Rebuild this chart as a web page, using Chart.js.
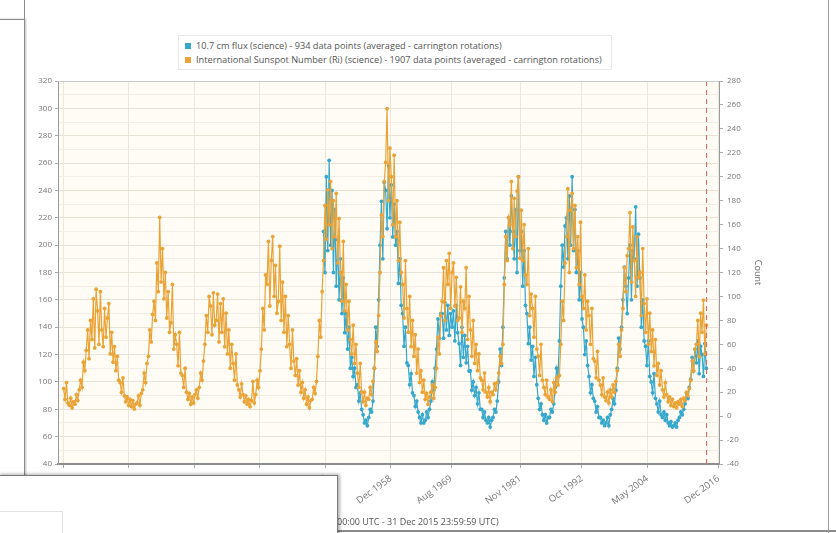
<!DOCTYPE html>
<html>
<head>
<meta charset="utf-8">
<script src="https://cdn.jsdelivr.net/npm/chart.js@4.4.1/dist/chart.umd.min.js"></script>
<style>
    html, body { margin: 0; padding: 0; background: #fff; }
    body { width: 836px; height: 533px; position: relative; overflow: hidden; font-family: "Open Sans", sans-serif; }
    #solarChart { position: absolute; left: 0; top: 0; }
    .legend { position: absolute; left: 178px; top: 35px; width: 434px; height: 35px; border: 1px solid #e8e8e8; background: #fff; box-sizing: border-box; padding: 3px 0 0 6px; }
    .legend-item { font-size: 9.2px; line-height: 14px; color: #555; white-space: nowrap; }
    .legend-item span { display: inline-block; width: 6px; height: 6px; margin-right: 5px; vertical-align: 0; }
    .range-text { position: absolute; left: 337px; top: 515px; font-size: 9px; color: #555; white-space: nowrap; }
    .range-rule { position: absolute; left: 335px; top: 530px; width: 501px; height: 2px; background: #8c8c8c; }
    .win-left { position: absolute; left: -2px; top: 19px; width: 25px; height: 470px; background: #fff; border: 1px solid #8a8a8a; box-shadow: 1px 0 2px rgba(0,0,0,0.25); }
    .win-left-top { position: absolute; left: 24px; top: 0; width: 1px; height: 19px; background: #8a8a8a; }
    .win-bottom { position: absolute; left: -2px; top: 475px; width: 338px; height: 70px; background: #fff; border: 1px solid #7a7a7a; box-shadow: 2px -1px 3px rgba(0,0,0,0.3); }
    .win-bottom-inner { position: absolute; left: -1px; top: 511px; width: 62px; height: 30px; border: 1px solid #e2e2e2; }
    .win-right { position: absolute; left: 828px; top: 0; width: 1px; height: 533px; background: #9a9a9a; }
</style>
</head>
<body>
<canvas id="solarChart" width="836" height="533"></canvas>
<div class="legend" id="legend"></div>
<div class="range-text">00:00 UTC - 31 Dec 2015 23:59:59 UTC)</div>
<div class="range-rule"></div>
<div class="win-left"></div>
<div class="win-left-top"></div>
<div class="win-bottom"></div>
<div class="win-bottom-inner"></div>
<div class="win-right"></div>
<script>
// 图例文字
const fluxLabel = '10.7 cm flux (science) - 934 data points (averaged - carrington rotations)';
const sunspotLabel = 'International Sunspot Number (Ri) (science) - 1907 data points (averaged - carrington rotations)';

// 采样：每年 4 个点
const sampleStep = 0.25;
const sunspotStartYear = 1901;
const fluxStartYear = 1947;

// 太阳黑子数（右轴 Count），1901 - 2014
const sunspotValues = [
    23, 14, 28, 11,   9, 15, 7, 12,   10, 18, 13, 22,   30, 24, 45, 38,   55, 72, 48, 80,
    64, 98, 57, 106,  88, 60, 104, 72,  58, 90, 66, 82,  94, 52, 70, 45,   58, 38, 50, 30,
    28, 20, 32, 17,   12, 16, 9, 14,   8, 13, 6, 10,    11, 17, 9, 19,    22, 36, 28, 44,
    50, 72, 62, 85,   96, 80, 128, 104, 166, 112, 140, 98, 120, 82, 104, 70, 78, 110, 56, 68,
    60, 42, 70, 36,   34, 24, 40, 20,   14, 19, 10, 16,   11, 18, 22, 15,   24, 36, 30, 46,
    60, 84, 70, 100,  92, 68, 103, 76,  80, 102, 62, 94,  70, 98, 58, 86,   52, 72, 40, 60,
    44, 30, 52, 26,   22, 16, 27, 18,   12, 17, 10, 14,   8, 13, 29, 11,   18, 30, 24, 38,
    56, 90, 72, 118,  110, 146, 92, 130, 150, 100, 126, 86, 96, 142, 80, 112, 70, 100, 58, 84,
    60, 40, 72, 46,   34, 48, 26, 38,   20, 28, 15, 22,   10, 16, 7, 13,   14, 24, 19, 29,
    50, 80, 66, 104,  130, 176, 148, 189, 160, 196, 140, 180, 150, 186, 128, 165, 120, 96, 146, 88,
    110, 72, 96, 64,  52, 76, 44, 60,   36, 24, 44, 20,   12, 20, 9, 15,   14, 24, 18, 29,
    40, 62, 54, 84,   120, 168, 150, 196, 212, 257, 180, 224, 200, 160, 218, 150, 180, 130, 162, 120,
    110, 82, 130, 90, 70, 100, 58, 80,  50, 68, 36, 56,   28, 38, 20, 30,   14, 19, 10, 16,
    20, 26, 15, 24,   40, 66, 52, 84,   96, 124, 80, 130, 110, 136, 90, 120, 128, 92, 116, 80,
    82, 108, 70, 96,  90, 124, 64, 100, 72, 50, 80, 44,   60, 38, 52, 32,   30, 22, 36, 20,
    16, 24, 12, 20,   18, 27, 22, 28,   36, 50, 44, 60,   110, 150, 130, 166, 160, 196, 140, 182,
    150, 188, 200, 132, 172, 130, 160, 118, 110, 140, 84, 102, 90, 66, 100, 56, 50, 34, 60, 30,
    24, 18, 30, 16,   14, 22, 12, 28,   20, 32, 26, 34,   60, 96, 80, 128,  150, 190, 120, 172,
    186, 140, 176, 124, 150, 110, 162, 100, 90, 118, 72, 96, 84, 60, 90, 48, 46, 32, 54, 30,
    26, 18, 32, 16,   13, 20, 11, 22,   16, 26, 20, 29,   38, 60, 50, 72,   90, 124, 104, 134,
    140, 170, 112, 158, 130, 100, 150, 116, 120, 84, 140, 94, 70, 98, 60, 86, 54, 72, 42, 64,
    34, 44, 26, 38,   22, 16, 28, 18,   12, 16, 9, 14,   8, 11, 7, 12,    10, 14, 8, 15,
    13, 20, 17, 23,   30, 46, 38, 56,   60, 80, 50, 86,   70, 97, 52, 76
];

// 10.7 cm 射电流量（左轴），1947 - 2014
const fluxValues = [
    210, 180, 250, 196,  262, 200, 240, 180,  226, 170, 204, 160,  190, 150, 176, 136,
    150, 124, 140, 110,  118, 104, 110, 96,   98, 86, 92, 80,     76, 70, 72, 68,
    74, 80, 78, 86,      110, 140, 126, 160,  200, 232, 190, 246,  240, 212, 258, 220,
    244, 206, 230, 200,  210, 172, 190, 156,  150, 126, 140, 114,  112, 98, 106, 92,
    90, 82, 86, 78,      74, 70, 76, 70,      72, 78, 74, 80,      86, 100, 94, 110,
    124, 146, 132, 150,  150, 132, 158, 138,  156, 134, 150, 140,  152, 130, 156, 136,
    128, 112, 140, 118,  134, 114, 126, 108,  108, 94, 100, 90,    96, 84, 92, 80,
    80, 74, 78, 72,      70, 74, 67, 72,      74, 80, 78, 86,      100, 124, 112, 140,
    176, 210, 190, 220,  200, 236, 210, 190,  226, 180, 250, 196,  210, 170, 196, 156,
    150, 128, 140, 116,  126, 104, 118, 98,   88, 80, 84, 76,      72, 76, 70, 74,
    74, 80, 78, 84,      96, 110, 104, 130,   170, 200, 184, 214,  220, 190, 236, 200,
    250, 196, 226, 180,  196, 160, 180, 146,  140, 120, 130, 112,  104, 92, 98, 88,
    86, 78, 82, 74,      74, 70, 72, 68,      70, 74, 68, 76,      80, 88, 84, 94,
    110, 132, 124, 140,  160, 184, 170, 150,  176, 200, 160, 196,  190, 228, 170, 208,
    176, 140, 160, 130,  126, 112, 130, 104,  100, 92, 106, 88,    84, 78, 86, 76,
    74, 78, 72, 76,      70, 68, 71, 67,      68, 70, 67, 72,      74, 78, 76, 80,
    84, 92, 88, 96,      102, 118, 108, 124,  114, 130, 106, 126,  120, 104, 128, 110
];

// 时间轴刻度（左侧五个被遮挡）
const tickYears = [1901.0, 1912.5, 1924.1, 1935.7, 1947.3, 1958.92, 1969.58, 1981.83, 1992.75, 2004.33, 2016.92];
const tickLabels = ['Jan 1901', 'Jul 1912', 'Feb 1924', 'Sep 1935', 'Apr 1947', 'Dec 1958', 'Aug 1969', 'Nov 1981', 'Oct 1992', 'May 2004', 'Dec 2016'];

const markerYear = 2014.8;

function toPoints(startYear, values) {
    return values.map((v, i) => ({ x: startYear + i * sampleStep, y: v }));
}

// 图表区背景、边框和红色虚线
const plotDecor = {
    id: 'plotDecor',
    beforeDraw(chart) {
        const { ctx, chartArea: a } = chart;
        ctx.save();
        ctx.fillStyle = '#fefcf5';
        ctx.fillRect(a.left, a.top, a.right - a.left, a.bottom - a.top);
        ctx.restore();
    },
    afterDatasetsDraw(chart) {
        const { ctx, chartArea: a } = chart;
        const x = chart.scales.x.getPixelForValue(markerYear);
        ctx.save();
        ctx.strokeStyle = '#e0605a';
        ctx.lineWidth = 1;
        ctx.setLineDash([5, 4]);
        ctx.beginPath();
        ctx.moveTo(x, a.top);
        ctx.lineTo(x, a.bottom);
        ctx.stroke();
        ctx.setLineDash([]);
        ctx.strokeStyle = '#c9c9c9';
        ctx.beginPath();
        ctx.moveTo(a.left, a.top + 0.5);
        ctx.lineTo(a.right, a.top + 0.5);
        ctx.stroke();
        ctx.restore();
    }
};

document.addEventListener('DOMContentLoaded', function() {
    const tickFont = { family: '"Open Sans", sans-serif', size: 8 };

    const chart = new Chart(document.getElementById('solarChart'), {
        type: 'line',
        data: {
            datasets: [
                {
                    label: fluxLabel,
                    data: toPoints(fluxStartYear, fluxValues),
                    yAxisID: 'yFlux',
                    borderColor: '#36a8cb',
                    backgroundColor: '#36a8cb',
                    borderWidth: 1.2,
                    pointRadius: 1.9,
                    pointBorderWidth: 0,
                    order: 2
                },
                {
                    label: sunspotLabel,
                    data: toPoints(sunspotStartYear, sunspotValues),
                    yAxisID: 'yCount',
                    borderColor: '#eaa336',
                    backgroundColor: '#eaa336',
                    borderWidth: 1.2,
                    pointRadius: 1.9,
                    pointBorderWidth: 0,
                    order: 1
                }
            ]
        },
        options: {
            responsive: false,
            animation: false,
            layout: { padding: { top: 81, left: 0, right: 69, bottom: 29 } },
            plugins: {
                legend: { display: false },
                tooltip: { enabled: false }
            },
            scales: {
                x: {
                    type: 'linear',
                    min: 1900,
                    max: 2017,
                    afterBuildTicks: function(scale) {
                        scale.ticks = tickYears.map(v => ({ value: v }));
                    },
                    afterFit: function(scale) { scale.height = 40; },
                    ticks: {
                        autoSkip: false,
                        maxRotation: 36,
                        minRotation: 36,
                        padding: 5,
                        font: { family: '"Open Sans", sans-serif', size: 9.5 },
                        color: '#777',
                        callback: function(value, index) { return tickLabels[index]; }
                    },
                    grid: { color: '#ece7dc', tickLength: 4, tickColor: '#aaa' },
                    border: { color: '#8c8c8c', width: 2 }
                },
                yFlux: {
                    position: 'left',
                    min: 40,
                    max: 320,
                    afterFit: function(scale) { scale.width = 58; },
                    ticks: {
                        stepSize: 10,
                        padding: 3,
                        font: tickFont,
                        color: '#777',
                        callback: function(value) { return value % 20 === 0 ? value : ''; }
                    },
                    grid: {
                        tickLength: 3,
                        color: ctx => ctx.tick && ctx.tick.value % 20 === 0 ? '#e7e1d6' : '#f2eee6',
                        tickColor: ctx => ctx.tick && ctx.tick.value % 20 === 0 ? '#aaa' : 'rgba(0,0,0,0)'
                    },
                    border: { color: '#9a9a9a' }
                },
                yCount: {
                    position: 'right',
                    min: -40,
                    max: 280,
                    afterFit: function(scale) { scale.width = 48; },
                    ticks: { stepSize: 20, padding: 4, font: tickFont, color: '#777' },
                    grid: { drawOnChartArea: false, tickLength: 4, tickColor: '#aaa' },
                    border: { color: '#9a9a9a' },
                    title: {
                        display: true,
                        text: 'Count',
                        font: { family: '"Open Sans", sans-serif', size: 9 },
                        color: '#666'
                    }
                }
            }
        },
        plugins: [plotDecor]
    });

    // 自定义图例（左对齐，每项一行）
    const legendEl = document.getElementById('legend');
    chart.data.datasets.forEach(ds => {
        const item = document.createElement('div');
        item.className = 'legend-item';
        const box = document.createElement('span');
        box.style.background = ds.borderColor;
        item.appendChild(box);
        item.appendChild(document.createTextNode(ds.label));
        legendEl.appendChild(item);
    });
});
</script>
</body>
</html>
